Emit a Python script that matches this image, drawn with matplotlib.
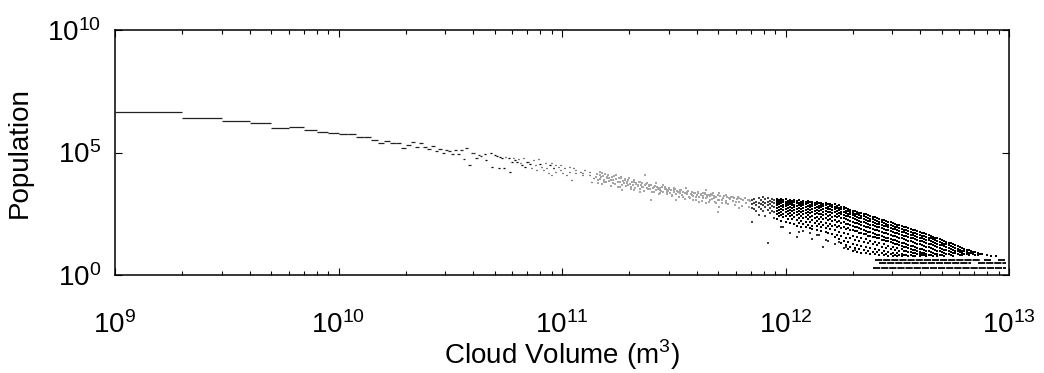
import numpy as np
import matplotlib
matplotlib.use("Agg")
import matplotlib.pyplot as plt
from matplotlib.ticker import LogLocator, NullLocator

plt.rcParams['font.family'] = ['Liberation Sans', 'DejaVu Sans']
plt.rcParams['mathtext.fontset'] = 'custom'
plt.rcParams['mathtext.rm'] = 'Liberation Sans'

# ---- data -------------------------------------------------------------
# small clouds: volume = n * 1e9 m^3, one bin per n (log10 population)
step_n = list(range(1, 44))
step_logpop = [6.64, 6.42, 6.30, 6.22, 6.00, 6.03, 5.92, 5.85, 5.81, 5.74,
               5.74, 5.65, 5.65, 5.51, 5.40, 5.47, 5.39, 5.39, 5.17, 5.31,
               5.44, 5.24, 5.39, 5.22, 5.14, 5.28, 5.05, 5.14, 4.99, 5.10,
               5.06, 4.95, 5.10, 4.95, 5.12, 4.75, 5.18, 4.49, 5.00, 4.96,
               4.76, 4.91, 4.87]

# sparse bins 4e10 .. 1.4e11 (log10 volume, log10 population)
sparse_logv = [10.650, 10.656, 10.676, 10.683, 10.695, 10.705, 10.713, 10.720, 10.728, 10.735,
               10.743, 10.758, 10.765, 10.773, 10.780, 10.787, 10.795, 10.802, 10.810, 10.817,
               10.825, 10.832, 10.840, 10.847, 10.854, 10.862, 10.869, 10.877, 10.884, 10.892,
               10.899, 10.907, 10.914, 10.922, 10.929, 10.936, 10.944, 10.951, 10.959,
               10.95, 10.96, 10.97, 10.97, 10.98, 10.99, 10.99, 11.00, 11.01, 11.02,
               11.03, 11.03, 11.04, 11.05, 11.06, 11.06, 11.07, 11.08, 11.09, 11.09,
               11.10, 11.11, 11.12, 11.12, 11.13, 11.14, 11.15, 11.15]
sparse_logn = [4.93, 4.69, 4.97, 4.42, 4.90, 4.87, 4.38, 4.83, 4.76, 4.35,
               4.80, 4.76, 4.22, 4.63, 4.79, 4.69, 4.60, 4.73, 4.56, 4.49,
               4.76, 4.42, 4.60, 4.63, 4.52, 4.35, 4.69, 4.49, 4.29, 4.73,
               4.52, 4.42, 4.29, 4.56, 4.38, 4.15, 4.49, 4.08, 4.35,
               4.56, 4.35, 4.49, 4.22, 4.42, 4.28, 4.49, 4.15, 4.35, 4.08,
               4.42, 4.22, 3.88, 4.35, 4.15, 4.28, 4.01, 4.22, 4.08, 4.15,
               4.28, 4.01, 4.22, 4.08, 3.81, 3.94, 4.15, 4.28]

# faint bins 1.4e11 .. 7e11 (log10 volume, log10 population)
faint_pts = """
11.16 3.74 11.17 4.08 11.175 4.01 11.18 4.15 11.19 3.81 11.20 4.01 11.205 4.08 11.21 3.94
11.22 3.88 11.23 3.74 11.24 4.08 11.25 3.81 11.26 3.60 11.265 3.94 11.27 3.47 11.28 3.88
11.29 3.74 11.295 3.67 11.30 3.94 11.31 3.60 11.32 3.81 11.32 3.47 11.33 3.74 11.34 3.67
11.35 3.81 11.35 3.40 11.36 3.60 11.37 4.08 11.38 3.74 11.38 3.54 11.39 3.67 11.40 3.06
11.41 3.60 11.41 3.40 11.42 3.74 11.43 3.54 11.44 3.33 11.44 3.47 11.45 3.67 11.46 3.60
11.47 3.47 11.47 3.40 11.48 3.54 11.49 3.26 11.50 3.47 11.50 3.54 11.51 3.06 11.52 3.40
11.53 3.33 11.53 3.47 11.54 3.20 11.55 3.33 11.555 3.54 11.56 3.40 11.57 3.20 11.58 3.26
11.585 3.06 11.59 3.33 11.60 3.20 11.61 3.40 11.615 2.99 11.62 3.26 11.63 3.13 11.64 3.33
11.645 2.92 11.65 3.20 11.66 3.06 11.67 3.26 11.674 3.33 11.68 3.13 11.69 2.92 11.70 3.06
11.70 2.58 11.629 3.33 11.644 3.47 11.659 3.27 11.689 3.20 11.703 3.33 11.718 3.06 11.733 3.27
11.748 3.13 11.763 3.20 11.778 2.99 11.793 3.13 11.808 3.06 11.823 2.93 11.838 3.06 11.703 2.79
11.793 2.72 11.733 2.93 11.659 2.99
11.152 3.98 11.158 4.12 11.163 3.86 11.168 4.20 11.172 3.92 11.178 3.70 11.183 4.05 11.187 3.89
11.193 4.14 11.197 3.78 11.202 3.96 11.207 4.09 11.212 3.83 11.218 3.64 11.222 3.99 11.227 3.87
11.233 4.03 11.238 3.72 11.243 3.90 11.249 3.58 11.253 3.95 11.258 3.80 11.262 4.00 11.268 3.69
11.273 3.85 11.277 3.77 11.283 3.93 11.288 3.62 11.292 3.81 11.297 3.88 11.303 3.71 11.308 3.52
11.313 3.79 11.318 3.66 11.323 3.86 11.328 3.57 11.333 3.72 11.338 3.63 11.343 3.80 11.348 3.50
11.353 3.69 11.358 3.75 11.363 3.58 11.368 3.44 11.373 3.66 11.378 3.71 11.383 3.53 11.388 3.62
11.393 3.49 11.398 3.68 11.404 3.38 11.409 3.57 11.414 3.63 11.419 3.45 11.424 3.59 11.429 3.50
11.434 3.31 11.439 3.55 11.444 3.42 11.449 3.60 11.454 3.37 11.459 3.49 11.464 3.53 11.469 3.29
11.474 3.44 11.479 3.51 11.484 3.36 11.489 3.47 11.494 3.24 11.499 3.40 11.505 3.49 11.511 3.31
11.516 3.44 11.522 3.19 11.527 3.38 11.532 3.45 11.538 3.28 11.543 3.39 11.549 3.12 11.554 3.35
11.560 3.29 11.565 3.43 11.571 3.16 11.576 3.31 11.582 3.37 11.587 3.22 11.593 3.34 11.598 3.08
11.604 3.27 11.610 3.36 11.615 3.19 11.621 3.30 11.627 3.04 11.632 3.23 11.638 3.31 11.644 3.14
11.650 3.26 11.656 3.00 11.661 3.21 11.667 3.29 11.673 3.11 11.679 3.24 11.685 2.97 11.690 3.18
11.696 3.26 11.702 3.08 11.708 3.21 11.714 2.92 11.720 3.15 11.726 3.23 11.732 3.04 11.738 3.17
11.744 2.89 11.750 3.12 11.757 3.20 11.763 3.01 11.769 3.14 11.775 2.85 11.781 3.09 11.787 3.17
11.793 2.98 11.799 3.11 11.805 2.82 11.812 3.06 11.818 3.14 11.824 2.95 11.830 3.08 11.836 2.79
11.842 3.03
"""

# isolated low bins between 8e11 and 2e12 (log10 volume, log10 population)
low_logv = [11.99, 12.06, 12.14, 12.18, 12.24, 12.27, 12.31, 12.02, 12.05, 12.08,
            12.12, 12.15, 12.19, 12.22, 12.11, 11.98, 12.26, 12.17]
low_logn = [1.97, 1.77, 1.63, 1.43, 1.36, 1.16, 1.02, 1.72, 1.55, 1.80,
            1.48, 1.62, 1.38, 1.25, 1.70, 1.95, 1.12, 1.15]

# dense bins above 7e11: "log10 volume: log10 populations"
dense_cols = """
11.85: 3.05 2.91 2.74 2.18
11.86: 3.12 2.94 2.71
11.87: 3.00 2.86 2.62
11.88: 3.14 2.95 2.77 2.45
11.89: 3.06 2.90 2.70
11.90: 3.17 3.00 2.84 2.60
11.91: 3.09 2.92 2.76 2.42
11.92: 3.15 2.99 2.86 2.66 1.30
11.93: 3.04 2.89 2.73 2.52
11.94: 3.12 2.97 2.82 2.61
11.95: 3.08 2.93 2.78 2.57 2.33
11.96: 3.12 3.03 2.93 2.84 2.74 2.60 2.48 2.27
11.97: 3.07 2.98 2.88 2.78 2.66 2.53 2.39
11.98: 3.11 3.01 2.92 2.82 2.71 2.59 2.44 2.21
11.99: 3.06 2.96 2.87 2.76 2.65 2.50 2.36
12.00: 3.09 3.00 2.90 2.80 2.69 2.57 2.42 2.15
12.01: 3.04 2.95 2.85 2.74 2.63 2.49 2.30
12.02: 3.08 2.98 2.89 2.79 2.67 2.54 2.40 2.12
12.03: 3.03 2.94 2.84 2.73 2.61 2.46 2.27
12.04: 3.06 2.97 2.87 2.77 2.65 2.52 2.37 2.08
12.05: 3.02 2.92 2.83 2.71 2.59 2.44 2.25 2.01
12.06: 3.05 2.95 2.86 2.75 2.63 2.50 2.34 2.14
12.07: 3.00 2.90 2.81 2.69 2.56 2.41 2.22 1.97
12.08: 3.03 2.94 2.84 2.73 2.61 2.47 2.31 2.09
12.09: 2.99 2.89 2.79 2.67 2.54 2.38 2.18 1.94
12.10: 3.01 2.92 2.82 2.71 2.58 2.44 2.27 2.05
12.11: 2.97 2.87 2.77 2.65 2.52 2.36 2.15 1.90
12.12: 2.99 2.90 2.80 2.69 2.56 2.41 2.24 2.02 1.86
12.13: 2.95 2.85 2.75 2.63 2.49 2.33 2.12
12.14: 2.97 2.88 2.78 2.66 2.53 2.38 2.20 1.98 1.83
12.15: 2.93 2.83 2.73 2.61 2.47 2.30 2.09
12.16: 2.95 2.86 2.76 2.64 2.51 2.35 2.17 1.95 1.79
12.17: 2.91 2.81 2.71 2.58 2.44 2.27 2.06
12.18: 2.93 2.84 2.74 2.62 2.48 2.32 2.13 1.91 1.75
12.19: 2.89 2.79 2.68 2.56 2.41 2.24 2.02 1.70
12.20: 2.90 2.81 2.71 2.59 2.45 2.29 2.10 1.87
12.21: 2.86 2.76 2.66 2.53 2.38 2.20 1.98 1.66
12.22: 2.88 2.78 2.68 2.56 2.42 2.25 2.06 1.82 1.55
12.23: 2.83 2.73 2.63 2.50 2.35 2.17 1.94 1.62
12.24: 2.84 2.75 2.65 2.53 2.39 2.22 2.02 1.77 1.45
12.25: 2.79 2.70 2.59 2.47 2.32 2.13 1.90 1.58 1.32
12.26: 2.77 2.68 2.57 2.45 2.31 2.15 1.97 1.72 1.40
12.27: 2.72 2.63 2.53 2.41 2.27 2.10 1.88 1.53 1.22
12.28: 2.70 2.61 2.51 2.39 2.25 2.09 1.91 1.66 1.35 1.05
12.29: 2.66 2.57 2.47 2.35 2.21 2.04 1.83 1.49 1.16
12.30: 2.63 2.54 2.44 2.32 2.18 2.01 1.85 1.60 1.28 0.98
12.31: 2.60 2.50 2.40 2.28 2.14 1.97 1.78 1.44 1.12
12.32: 2.58 2.48 2.37 2.25 2.11 1.94 1.79 1.55 1.24 0.93
12.33: 2.55 2.45 2.34 2.21 2.07 1.90 1.72 1.39 1.08
12.34: 2.52 2.42 2.31 2.18 2.04 1.87 1.73 1.50 1.19 0.90
12.35: 2.49 2.39 2.28 2.15 2.00 1.83 1.66 1.34 1.03
12.36: 2.47 2.36 2.25 2.12 1.97 1.80 1.67 1.45 1.14 0.88
12.37: 2.44 2.33 2.22 2.09 1.94 1.77 1.60 1.30 0.99
12.38: 2.41 2.30 2.19 2.06 1.91 1.74 1.61 1.40 1.09 0.86
12.39: 2.38 2.27 2.16 2.03 1.88 1.71 1.55 1.25 0.95
12.40: 2.35 2.24 2.13 2.00 1.85 1.68 1.55 1.35 1.05 0.84
12.41: 2.32 2.21 2.10 1.97 1.82 1.65 1.49 1.21 0.92
12.42: 2.29 2.18 2.07 1.94 1.79 1.62 1.49 1.30 1.01 0.82
12.43: 2.26 2.15 2.04 1.91 1.76 1.59 1.44 1.16 0.89
12.44: 2.24 2.12 2.01 1.88 1.73 1.56 1.43 1.25 0.97 0.80
12.45: 2.21 2.09 1.98 1.85 1.70 1.53 1.38 1.12 0.87
12.46: 2.18 2.06 1.95 1.82 1.67 1.50 1.37 1.20 0.94 0.79
12.47: 2.15 2.03 1.92 1.79 1.64 1.47 1.33 1.08 0.85
12.48: 2.12 2.00 1.89 1.76 1.61 1.44 1.31 1.15 0.91 0.78
12.49: 2.09 1.97 1.86 1.73 1.58 1.41 1.27 1.04 0.83
12.50: 2.06 1.94 1.83 1.70 1.55 1.38 1.25 1.10 0.88 0.77
12.51: 2.03 1.91 1.80 1.67 1.52 1.35 1.21 1.00 0.81
12.52: 2.00 1.88 1.77 1.64 1.49 1.32 1.19 1.05 0.85 0.76
12.53: 1.97 1.85 1.74 1.61 1.46 1.29 1.15 0.96 0.80
12.54: 1.94 1.82 1.71 1.58 1.43 1.26 1.13 1.00 0.83
12.55: 1.91 1.79 1.68 1.55 1.40 1.23 1.09 0.92 0.78
12.56: 1.88 1.76 1.65 1.52 1.37 1.20 1.07 0.95 0.81
12.57: 1.85 1.73 1.62 1.49 1.34 1.17 1.03 0.88 0.76
12.58: 1.82 1.70 1.59 1.46 1.31 1.14 1.01 0.90 0.79
12.59: 1.79 1.67 1.56 1.43 1.28 1.11 0.97 0.84
12.60: 1.76 1.64 1.53 1.40 1.25 1.08 0.95 0.86 0.77
12.61: 1.73 1.61 1.50 1.37 1.22 1.05 0.91 0.80
12.62: 1.70 1.58 1.47 1.34 1.19 1.02 0.89 0.82
12.63: 1.67 1.55 1.44 1.31 1.16 0.99 0.86 0.77
12.64: 1.64 1.52 1.41 1.28 1.13 0.96 0.83
12.65: 1.60 1.49 1.38 1.25 1.10 0.93 0.80
12.66: 1.57 1.46 1.35 1.22 1.07 0.90 0.78
12.67: 1.53 1.42 1.31 1.18 1.03 0.87
12.68: 1.50 1.39 1.28 1.15 1.00 0.85 0.76
12.69: 1.46 1.35 1.24 1.11 0.96 0.82
12.70: 1.43 1.32 1.21 1.08 0.93 0.80
12.71: 1.39 1.28 1.17 1.04 0.90 0.78
12.72: 1.36 1.25 1.14 1.01 0.87
12.73: 1.32 1.21 1.10 0.97 0.84
12.74: 1.29 1.18 1.07 0.94 0.82
12.75: 1.25 1.14 1.03 0.91 0.79
12.76: 1.22 1.11 1.00 0.88
12.77: 1.18 1.07 0.96 0.85
12.78: 1.15 1.04 0.93 0.82
12.79: 1.11 1.00 0.90 0.80
12.80: 1.08 0.97 0.87
12.81: 1.04 0.94 0.84
12.82: 1.01 0.91 0.81
12.83: 0.98 0.88
12.84: 0.95 0.85
12.85: 0.92 0.82
12.86: 0.89 0.80
12.87: 0.87
12.88: 0.84
12.90: 0.81
12.92: 0.79
12.94: 0.78
"""

# runs of consecutive bins holding exactly 2, 3 and 4 clouds (log10 volume ranges)
run_counts = [4, 4, 4, 3, 3, 2]
run_start = [12.40, 12.89, 12.95, 12.42, 12.86, 12.39]
run_end = [12.87, 12.92, 12.98, 12.83, 12.985, 12.985]

x_ticks_exp = [9, 10, 11, 12, 13]
y_ticks_exp = [0, 5, 10]

# ---- parse the text tables -------------------------------------------
fv = np.array(faint_pts.split(), dtype=float)
faint_logv, faint_logn = fv[0::2], fv[1::2]
dx, dy = [], []
for line in dense_cols.strip().splitlines():
    k, vals = line.split(':')
    for v in vals.split():
        dx.append(float(k))
        dy.append(float(v))
dx = np.array(dx)
dy = np.array(dy)

# ---- figure -----------------------------------------------------------
W, H = 1044, 373
fig = plt.figure(figsize=(W / 100, H / 100), dpi=100)
ax = fig.add_axes([115 / W, 1 - 275 / H, 894 / W, 245 / H])

bin_w = 1e9
step_v = np.array(step_n, dtype=float) * bin_w
ax.hlines(10 ** np.array(step_logpop), step_v, step_v + bin_w,
          colors='#222222', linewidth=0.9, capstyle='butt')

sv = 10 ** np.array(sparse_logv)
ax.hlines(10 ** np.array(sparse_logn), sv, sv + bin_w,
          colors='black', linewidth=0.9, capstyle='butt')

ax.scatter(10 ** faint_logv, 10 ** faint_logn,
           s=1.0, marker='s', color='#a6a6a6', linewidths=0)

ax.scatter(10 ** np.array(low_logv), 10 ** np.array(low_logn),
           s=1.6, marker='s', color='#333333', linewidths=0)

edge = dx < 11.955
ax.scatter(10 ** dx[edge], 10 ** dy[edge], s=1.8, marker='s',
           color='#444444', linewidths=0)
ax.scatter(10 ** dx[~edge], 10 ** dy[~edge], s=2.8, marker='s',
           color='black', linewidths=0)

ax.hlines(np.array(run_counts, dtype=float), 10 ** np.array(run_start),
          10 ** np.array(run_end), colors='black', linewidth=1.3,
          linestyles=(0, (4, 0.5)), capstyle='butt')

ax.set_xscale('log')
ax.set_yscale('log')
ax.set_xlim(1e9, 1e13)
ax.set_ylim(1e0, 1e10)
ax.set_xticks([10.0 ** e for e in x_ticks_exp])
ax.set_yticks([10.0 ** e for e in y_ticks_exp])
ax.xaxis.set_minor_locator(LogLocator(base=10, subs=np.arange(2, 10)))
ax.yaxis.set_minor_locator(NullLocator())

ax.tick_params(which='both', direction='in', top=True, right=True,
               width=0.8, colors='black')
ax.tick_params(which='major', length=5)
ax.tick_params(which='minor', length=3)
ax.tick_params(axis='x', which='major', labelsize=20, pad=26)
ax.tick_params(axis='y', which='major', labelsize=20, pad=10)
for s in ax.spines.values():
    s.set_linewidth(1.1)

ax.set_xlabel('Cloud Volume (m$^3$)', fontsize=20)
ax.xaxis.set_label_coords(0.5, -(338 - 275) / 245)
ax.set_ylabel('Population', fontsize=20, labelpad=10)

fig.savefig('out.png', dpi=100)
